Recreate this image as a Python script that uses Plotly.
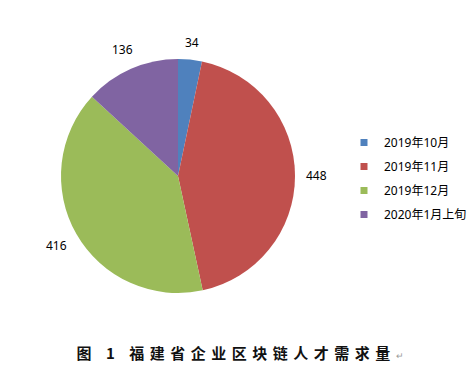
import math
import plotly.graph_objects as go

# ---- data ----
categories = ["2019年10月", "2019年11月", "2019年12月", "2020年1月上旬"]
values = [34, 448, 416, 136]
colors = ["#4F81BD", "#C0504D", "#9BBB59", "#8064A2"]
title_text = "图 1 福建省企业区块链人才需求量"

W, H = 472, 376
dom_x = [61 / W, 295 / W]
dom_y = [1 - 293 / H, 1 - 59 / H]

fig = go.Figure()
fig.add_trace(go.Pie(
    labels=categories, values=values, sort=False, direction="clockwise",
    rotation=0, marker=dict(colors=colors, line=dict(width=0)),
    textinfo="none", hoverinfo="label+value", showlegend=False,
    domain=dict(x=dom_x, y=dom_y),
))

# legend entries (dummy traces so spacing can be controlled)
for c, col in zip(categories, colors):
    fig.add_trace(go.Scatter(
        x=[None], y=[None], mode="markers", name=c, legendgroup=c,
        marker=dict(symbol="square", size=7, color=col), hoverinfo="skip",
    ))

# outside value labels, placed along each slice's mid-angle
cx = (dom_x[0] + dom_x[1]) / 2 * W
cy = (1 - (dom_y[0] + dom_y[1]) / 2) * H
R = min((dom_x[1] - dom_x[0]) * W, (dom_y[1] - dom_y[0]) * H) / 2
total = sum(values)
cum = 0
annotations = []
# title first (index 0) for letter spacing style
annotations.append(dict(
    text=title_text + '<span style="font-size:9px;color:#9a9a9a;font-weight:normal">↵</span>',
    x=243 / W, y=1 - 352 / H, xref="paper", yref="paper",
    xanchor="center", yanchor="middle", showarrow=False,
    font=dict(family="Noto Sans CJK SC", size=15, color="#111111", weight="bold"),
))
for v in values:
    mid = (cum + v / 2) / total * 2 * math.pi
    cum += v
    tw = len(str(v)) * 6.9
    th = 12
    ext = abs(math.sin(mid)) * tw / 2 + abs(math.cos(mid)) * th / 2
    rl = R + 11 + ext
    px = cx + rl * math.sin(mid)
    py = cy - rl * math.cos(mid)
    annotations.append(dict(
        text=str(v), x=px / W, y=1 - py / H, xref="paper", yref="paper",
        xanchor="center", yanchor="middle", showarrow=False,
        font=dict(family="Noto Sans, Noto Sans CJK SC", size=12, color="#000000"),
    ))

fig.update_layout(
    width=W, height=H, margin=dict(l=0, r=0, t=0, b=0),
    paper_bgcolor="white", plot_bgcolor="white",
    xaxis=dict(visible=False), yaxis=dict(visible=False),
    annotations=annotations,
    legend=dict(
        x=344 / W, y=1 - 128 / H, xanchor="left", yanchor="top",
        traceorder="grouped", tracegroupgap=5,
        font=dict(family="Noto Sans, Noto Sans CJK SC", size=12, color="#000000"),
        bgcolor="rgba(0,0,0,0)",
    ),
)

post = """
var s=document.createElement('style');
s.textContent='body{margin:0 !important;} g.annotation[data-index="0"] text{letter-spacing:5.5px;}';
document.head.appendChild(s);
"""
fig.write_html("out.html", post_script=post, config={"displayModeBar": False})
